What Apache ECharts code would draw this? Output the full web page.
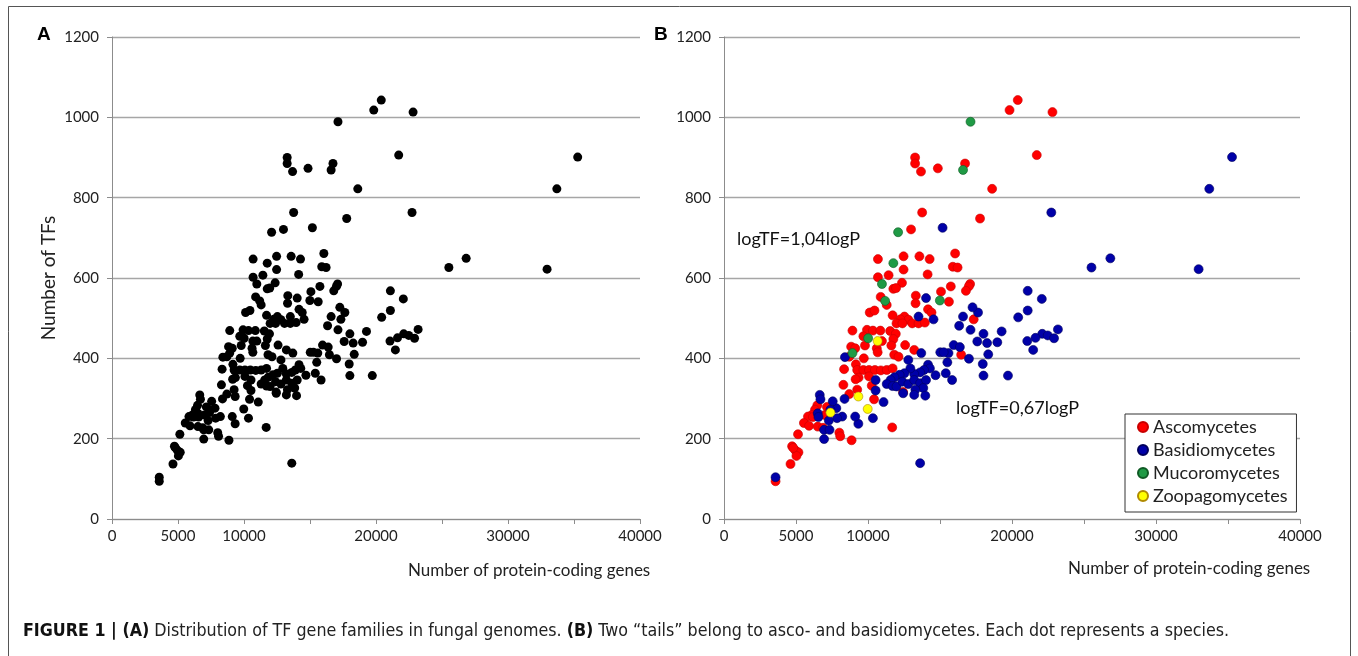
<!DOCTYPE html>
<html>
<head>
<meta charset="utf-8">
<title>TF gene families in fungal genomes</title>
<script src="https://cdn.jsdelivr.net/npm/echarts@6/dist/echarts.min.js"></script>
<style>
  html, body { margin: 0; padding: 0; background: #fff; }
  #chart { width: 1358px; height: 656px; }
</style>
</head>
<body>
<div id="chart"></div>
<script>
// protein-coding genes vs number of TFs, one list per group
var ascomycetes = [
  [20400,1043],[19830,1018],[22810,1013],[21720,906],[18620,822],[17780,748],[16740,885],[14850,873],
  [13270,900],[13270,885],[13680,865],[13760,763],[12990,721],[16050,661],[10690,647],[12470,654],
  [13570,654],[14280,647],[15890,628],[16220,626],[12470,621],[14140,609],[11430,607],[10690,602],
  [12360,588],[11760,573],[11950,575],[15750,579],[17090,585],[17000,579],[16800,568],[10880,553],
  [13320,556],[13300,537],[11300,533],[14170,522],[15070,566],[15620,541],[14410,514],[10120,514],
  [10450,519],[11710,507],[12530,504],[12800,496],[12250,497],[11980,487],[12390,487],[13070,487],
  [13510,487],[13950,489],[17340,497],[8920,469],[9930,471],[10340,469],[10860,469],[11540,468],
  [11930,461],[9680,455],[10970,443],[11760,448],[8830,429],[9110,425],[9790,432],[10610,425],
  [10670,415],[11620,432],[12580,433],[13210,421],[11820,409],[12120,404],[9710,400],[8700,404],
  [16470,409],[8340,373],[9160,385],[9250,371],[9680,371],[10070,371],[10480,371],[10890,370],
  [11300,371],[11710,375],[9350,352],[9140,348],[10070,355],[8290,334],[10260,332],[8700,311],
  [9250,322],[10420,298],[12440,316],[11680,228],[8860,196],[8010,215],[8070,206],[6480,283],
  [6320,272],[6100,259],[5830,255],[5550,239],[5910,232],[6510,230],[7000,259],[7150,279],
  [6180,254],[6880,227],[5140,211],[4730,181],[4950,171],[5170,166],[5030,157],[4810,177],
  [4620,137],[3580,94]
];
var basidiomycetes = [
  [35280,901],[33700,822],[32960,622],[26830,649],[25520,626],[22730,763],[15180,725],[21090,568],
  [22070,548],[21090,519],[20430,502],[23190,472],[22100,461],[22480,457],[22920,450],[21630,451],
  [21060,443],[21470,421],[19280,467],[18980,440],[18270,438],[17590,442],[18020,461],[17640,514],
  [17260,527],[16600,504],[16330,481],[17120,471],[15950,433],[16380,428],[18350,410],[17970,386],
  [18020,357],[19720,357],[17010,399],[15510,390],[15590,413],[15020,415],[15260,415],[14550,497],
  [14030,550],[13510,504],[13700,413],[15400,363],[15840,346],[14690,358],[14170,384],[14300,375],
  [13890,371],[13620,365],[13210,361],[12940,375],[12800,396],[12530,363],[12200,359],[11840,353],
  [11570,346],[11300,336],[11710,331],[11980,330],[12390,342],[12800,336],[13210,346],[13620,338],
  [14030,346],[13840,326],[13290,322],[13980,307],[13210,309],[12440,313],[10530,346],[10530,320],
  [11080,291],[10340,251],[9330,237],[9110,255],[8400,403],[8370,299],[8210,255],[7850,251],
  [7800,276],[7550,293],[7390,272],[7280,245],[6950,222],[7330,222],[6950,199],[6650,309],
  [6700,298],[6510,263],[6560,254],[3580,104],[13620,139]
];
var mucoromycetes = [
  [17120,989],[16600,869],[12090,714],[11760,637],[10970,585],[11190,543],[14990,544],[10010,450],[8920,413]
];
var zoopagomycetes = [
  [10670,443],[9330,305],[9980,274],[7390,265]
];
var groupNames = ['Ascomycetes', 'Basidiomycetes', 'Mucoromycetes', 'Zoopagomycetes'];
var xHidden = [15000, 25000, 35000];   // Excel skipped these labels

var allSpecies = ascomycetes.concat(basidiomycetes, mucoromycetes, zoopagomycetes);

var chart = echarts.init(document.getElementById('chart'));

function xAxisCfg(idx){
    return {
        gridIndex: idx, type: 'value', min: 0, max: 40000, interval: 5000,
        axisLine: { lineStyle: { color: '#8c8c8c', width: 1 } },
        axisTick: { show: true, length: 5, lineStyle: { color: '#8c8c8c' } },
        axisLabel: {
            color: '#222', fontSize: 15, fontFamily: 'Lato', margin: 10,
            formatter: function(v){ return xHidden.indexOf(v) >= 0 ? '' : String(v); }
        },
        splitLine: { show: false }
    };
}
function yAxisCfg(idx){
    return {
        gridIndex: idx, type: 'value', min: 0, max: 1200, interval: 200,
        axisLine: { show: true, lineStyle: { color: '#8c8c8c', width: 1 } },
        axisTick: { show: true, length: 5, lineStyle: { color: '#8c8c8c' } },
        axisLabel: { color: '#222', fontSize: 15, fontFamily: 'Lato', margin: 13,
            formatter: function(v){ return String(v); } },
        splitLine: { show: true, lineStyle: { color: '#a6a6a6', width: 1.3 } }
    };
}

var yA = yAxisCfg(0);
yA.name = 'Number of TFs';
yA.nameLocation = 'middle';
yA.nameRotate = 90;
yA.nameGap = 54;
yA.nameTextStyle = { color: '#222', fontSize: 19, fontFamily: 'Lato' };

var colorsB = [
    { color: '#ff0000', borderColor: '#c80000' },
    { color: '#0000a8', borderColor: '#00005c' },
    { color: '#1f9a45', borderColor: '#0f5a24' },
    { color: '#ffff00', borderColor: '#b08a00' }
];
var groups = [ascomycetes, basidiomycetes, mucoromycetes, zoopagomycetes];

var series = [{
    type: 'scatter', xAxisIndex: 0, yAxisIndex: 0,
    symbolSize: 9, data: allSpecies,
    itemStyle: { color: '#000', opacity: 1 }, emphasis: { disabled: true }
}];
for (var i = 0; i < groups.length; i++){
    series.push({
        name: groupNames[i], type: 'scatter', xAxisIndex: 1, yAxisIndex: 1,
        symbolSize: 9, data: groups[i],
        itemStyle: { color: colorsB[i].color, borderColor: colorsB[i].borderColor, borderWidth: 0.6, opacity: 1 },
        emphasis: { disabled: true }
    });
}

var option = {
    animation: false,
    backgroundColor: '#fff',
    grid: [
        { left: 112, top: 37, width: 528, height: 482 },
        { left: 724, top: 37, width: 576, height: 482 }
    ],
    xAxis: [xAxisCfg(0), xAxisCfg(1)],
    yAxis: [yA, yAxisCfg(1)],
    legend: {
        data: groupNames, orient: 'vertical', left: 1125, top: 414,
        icon: 'circle', itemWidth: 10, itemHeight: 10, itemGap: 5,
        padding: [4, 9, 7, 12],
        backgroundColor: '#fff', borderColor: '#333', borderWidth: 1,
        textStyle: { color: '#222', fontSize: 18, fontFamily: 'Lato' },
        selectedMode: false
    },
    series: series,
    graphic: [
        { type: 'rect', shape: { x: 8.5, y: 6.5, width: 1342, height: 700 },
          style: { fill: 'none', stroke: '#555', lineWidth: 1 }, silent: true, z: 100 },
        { type: 'text', left: 37, top: 25,
          style: { text: 'A', font: 'bold 19px "Liberation Sans"', fill: '#000' } },
        { type: 'text', left: 654, top: 25,
          style: { text: 'B', font: 'bold 19px "Liberation Sans"', fill: '#000' } },
        { type: 'text', left: 408, top: 562,
          style: { text: 'Number of protein-coding genes', font: '17px Lato', fill: '#222' } },
        { type: 'text', left: 1068, top: 560,
          style: { text: 'Number of protein-coding genes', font: '17px Lato', fill: '#222' } },
        { type: 'text', left: 737, top: 230,
          style: { text: 'logTF=1,04logP', font: '18px Lato', fill: '#111' } },
        { type: 'text', left: 956, top: 399,
          style: { text: 'logTF=0,67logP', font: '18px Lato', fill: '#111' } },
        { type: 'text', left: 23, top: 622,
          style: {
              text: '{b|FIGURE 1 | (A)} Distribution of TF gene families in fungal genomes. {b|(B)} Two \u201ctails\u201d belong to asco- and basidiomycetes. Each dot represents a species.',
              font: '17.7px "Liberation Sans Narrow", "DejaVu Sans Condensed", sans-serif',
              fill: '#222',
              rich: { b: { fontWeight: 'bold', fontSize: 17.7, fontFamily: '"Liberation Sans Narrow", "DejaVu Sans Condensed", sans-serif', fill: '#111' } }
          } }
    ]
};

chart.setOption(option);
</script>
</body>
</html>
